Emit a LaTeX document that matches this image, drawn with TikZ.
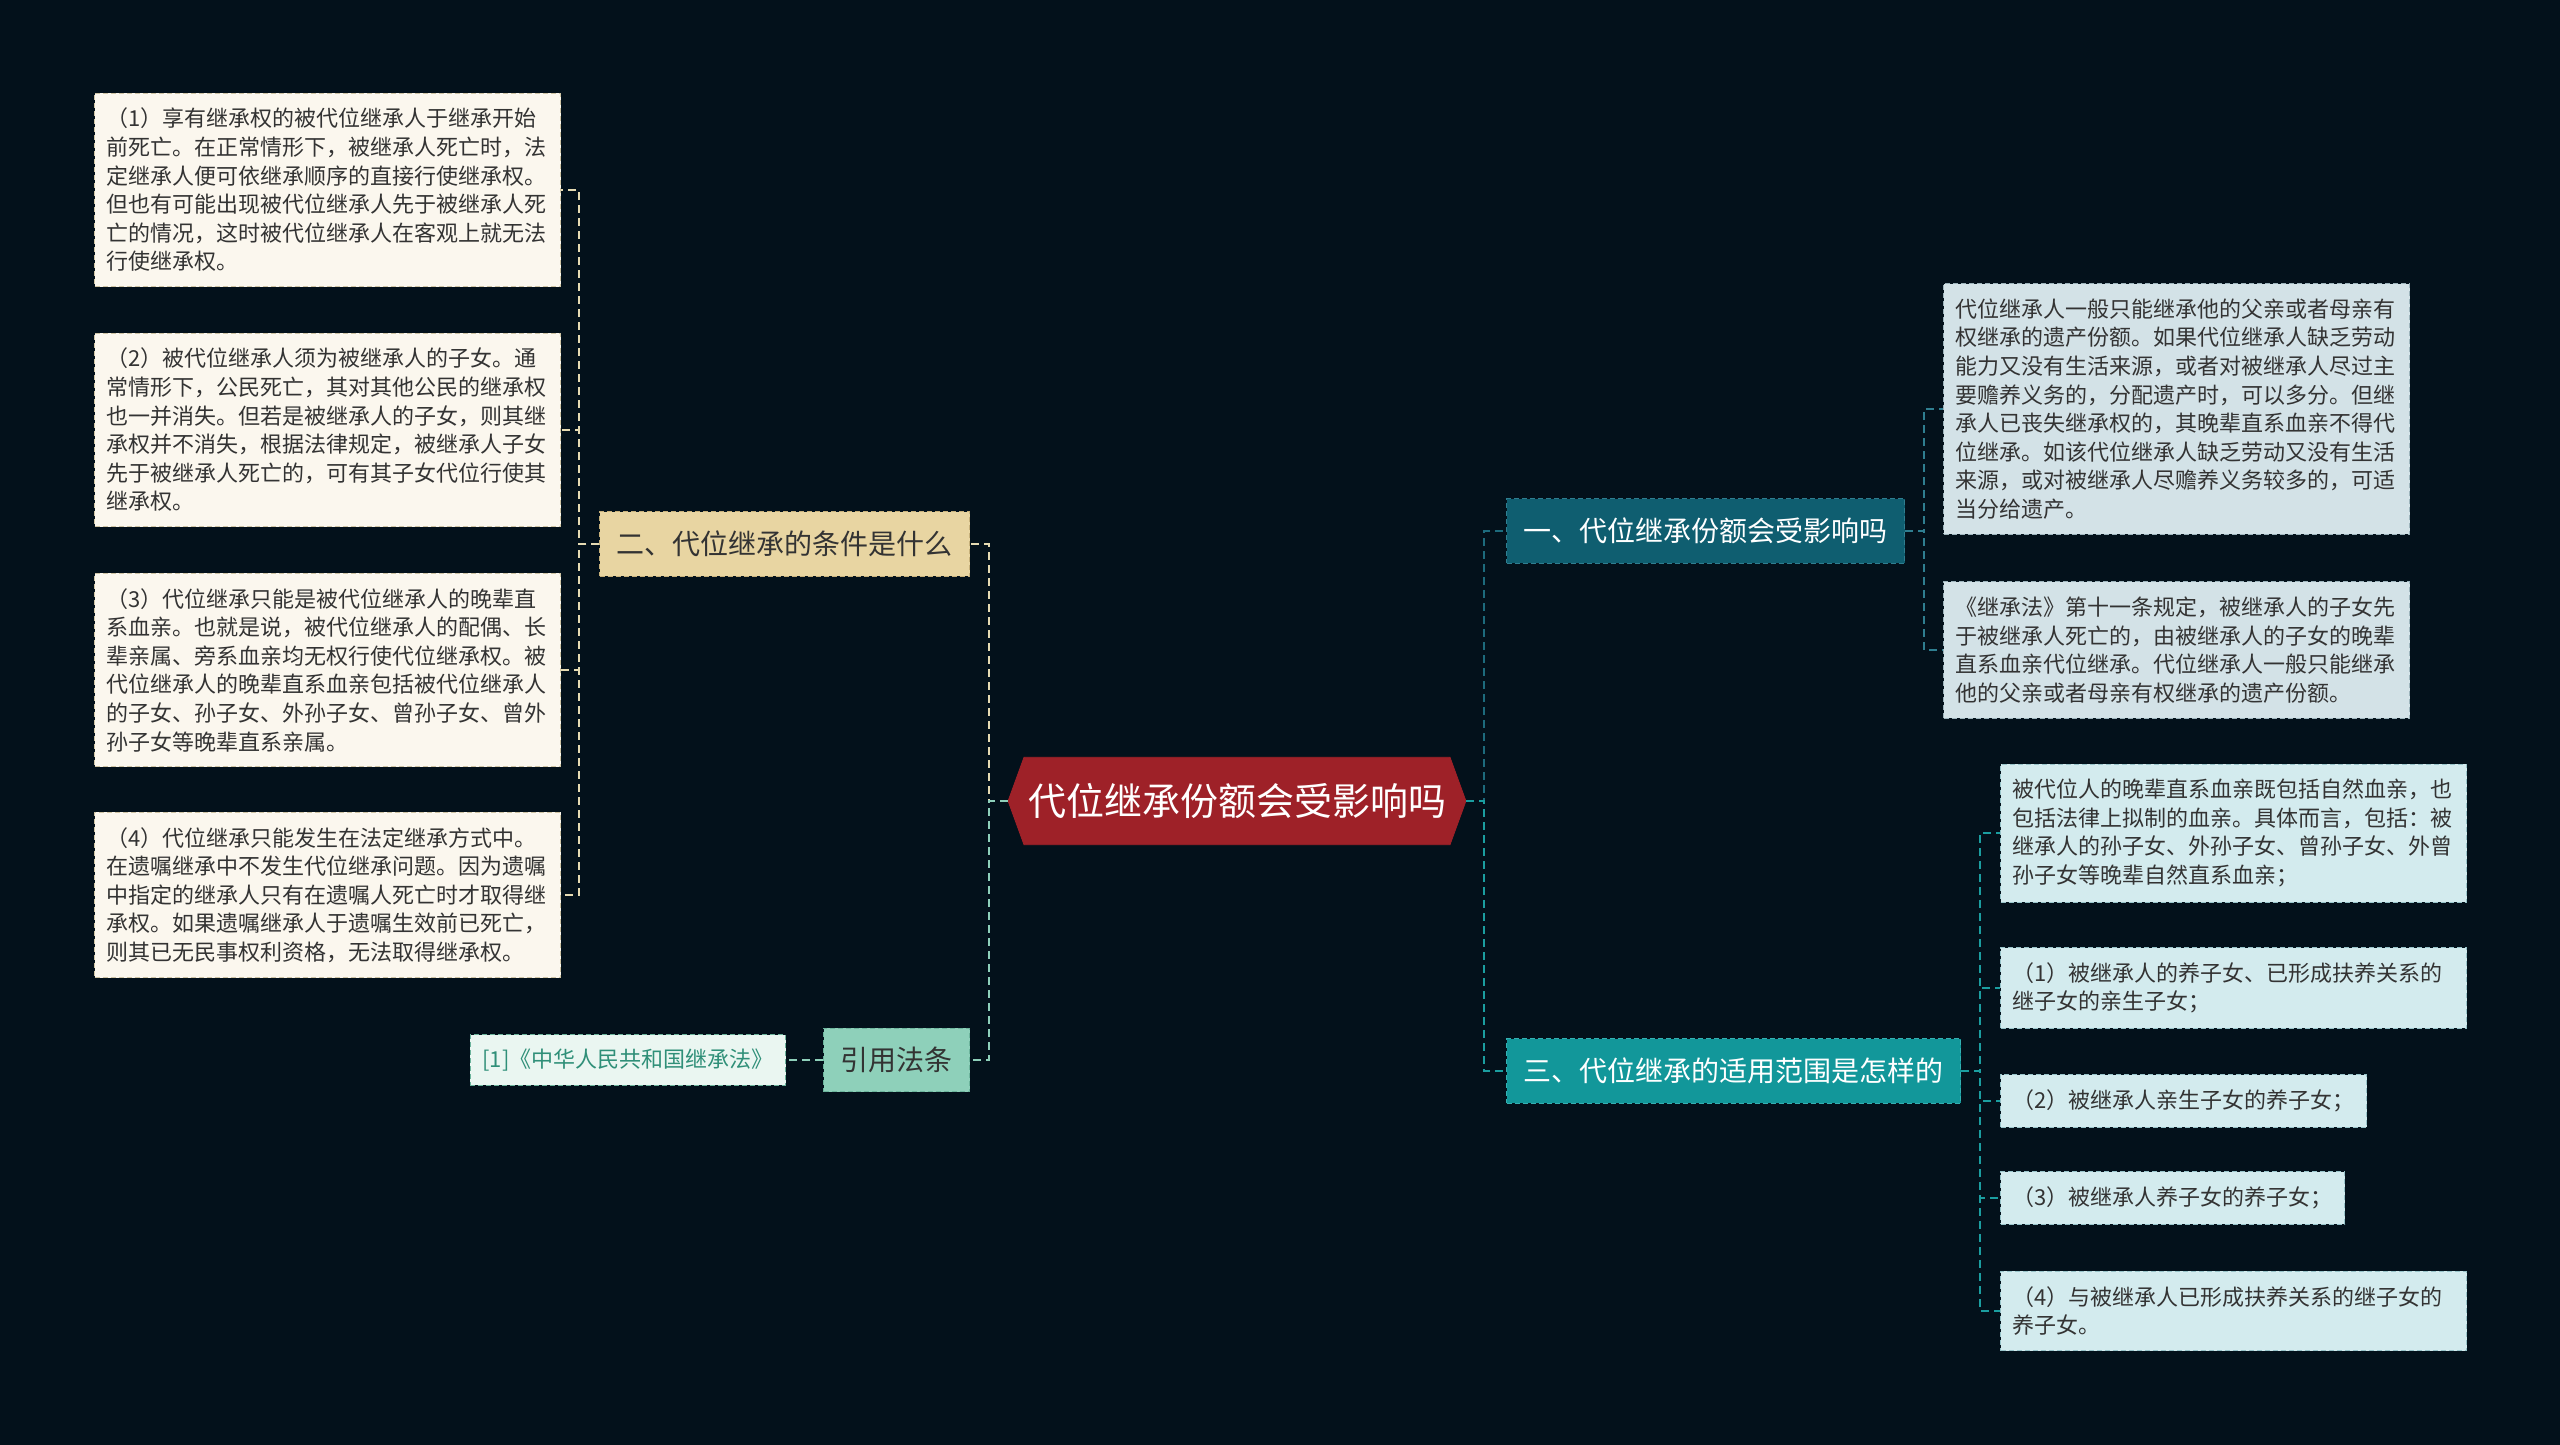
\documentclass[tikz,border=0pt]{standalone}
\usepackage{fontspec}
\setmainfont{Noto Sans CJK SC}
\usetikzlibrary{shapes.symbols}
\definecolor{mbg}{HTML}{03111B}
\definecolor{mtext}{HTML}{333333}
\definecolor{mcream}{HTML}{FBF7EE}
\definecolor{mcreamln}{HTML}{CFC4A4}
\definecolor{mtan}{HTML}{E8D5A2}
\definecolor{mtanln}{HTML}{C6B07A}
\definecolor{mcline}{HTML}{E6DBB3}
\definecolor{mmint}{HTML}{8ED0BA}
\definecolor{mmintln}{HTML}{6CB49C}
\definecolor{mmintpale}{HTML}{EAF6F1}
\definecolor{mminttext}{HTML}{2F8F78}
\definecolor{mred}{HTML}{9E2128}
\definecolor{mdeep}{HTML}{0F5E70}
\definecolor{mdeepln}{HTML}{2F7E90}
\definecolor{mteal}{HTML}{12979A}
\definecolor{mtealln}{HTML}{35B0B2}
\definecolor{mgrey}{HTML}{D3E2E7}
\definecolor{mgreyln}{HTML}{9DB4BC}
\definecolor{mice}{HTML}{D3EBEE}
\definecolor{miceln}{HTML}{98C4CA}
\definecolor{mdline}{HTML}{1D6B7D}
\definecolor{mtline}{HTML}{1B9EA0}

\begin{document}
\begin{tikzpicture}[
  x=0.5pt, y=-0.5pt,
  leaf/.style={draw, dash pattern=on 2.5pt off 1.5pt, line width=0.5pt, align=left, inner xsep=6pt, inner ysep=7.5pt, text=mtext, font=\fontsize{11}{14.3}\selectfont},
  wide/.style={leaf, text width=221pt},
  topic/.style={draw, dash pattern=on 2.5pt off 1.5pt, line width=0.5pt, inner xsep=8.5pt, inner ysep=9.5pt, font=\fontsize{14}{14}\selectfont},
  rootbox/.style={signal, signal to=west and east, signal pointer angle=140, fill=mred, draw=mred, text=white, inner xsep=2pt, inner ysep=13pt, font=\fontsize{19}{19}\selectfont},
  lnk/.style={dash pattern=on 4pt off 2.5pt, line width=1pt}
]
\path[use as bounding box, fill=mbg] (0,0) rectangle (2560,1445);

\node[rootbox] (root) at (1237,801) {代位继承份额会受影响吗};

\node[topic, fill=mtan, draw=mtanln, text=mtext, anchor=east] (cond) at (970,544) {二、代位继承的条件是什么};
\node[topic, fill=mmint, draw=mmintln, text=mtext, anchor=east] (ref) at (970,1060) {引用法条};
\node[leaf, fill=mmintpale, draw=mmintln, text=mminttext, inner ysep=7pt, anchor=east] (law) at (786,1060) {[1]《中华人民共和国继承法》};
\node[topic, fill=mdeep, draw=mdeepln, text=white, anchor=west] (share) at (1506,531) {一、代位继承份额会受影响吗};
\node[topic, fill=mteal, draw=mtealln, text=white, anchor=west] (scope) at (1506,1071) {三、代位继承的适用范围是怎样的};

\node[wide, fill=mcream, draw=mcreamln, anchor=west] (c1) at (94,190) {（1）享有继承权的被代位继承人于继承开始\\前死亡。在正常情形下，被继承人死亡时，法\\定继承人便可依继承顺序的直接行使继承权。\\但也有可能出现被代位继承人先于被继承人死\\亡的情况，这时被代位继承人在客观上就无法\\行使继承权。};
\node[wide, fill=mcream, draw=mcreamln, anchor=west] (c2) at (94,430) {（2）被代位继承人须为被继承人的子女。通\\常情形下，公民死亡，其对其他公民的继承权\\也一并消失。但若是被继承人的子女，则其继\\承权并不消失，根据法律规定，被继承人子女\\先于被继承人死亡的，可有其子女代位行使其\\继承权。};
\node[wide, fill=mcream, draw=mcreamln, anchor=west] (c3) at (94,670) {（3）代位继承只能是被代位继承人的晚辈直\\系血亲。也就是说，被代位继承人的配偶、长\\辈亲属、旁系血亲均无权行使代位继承权。被\\代位继承人的晚辈直系血亲包括被代位继承人\\的子女、孙子女、外孙子女、曾孙子女、曾外\\孙子女等晚辈直系亲属。};
\node[wide, fill=mcream, draw=mcreamln, anchor=west] (c4) at (94,895) {（4）代位继承只能发生在法定继承方式中。\\在遗嘱继承中不发生代位继承问题。因为遗嘱\\中指定的继承人只有在遗嘱人死亡时才取得继\\承权。如果遗嘱继承人于遗嘱生效前已死亡，\\则其已无民事权利资格，无法取得继承权。};

\node[wide, fill=mgrey, draw=mgreyln, anchor=west] (s1) at (1943,409) {代位继承人一般只能继承他的父亲或者母亲有\\权继承的遗产份额。如果代位继承人缺乏劳动\\能力又没有生活来源，或者对被继承人尽过主\\要赡养义务的，分配遗产时，可以多分。但继\\承人已丧失继承权的，其晚辈直系血亲不得代\\位继承。如该代位继承人缺乏劳动又没有生活\\来源，或对被继承人尽赡养义务较多的，可适\\当分给遗产。};
\node[wide, fill=mgrey, draw=mgreyln, anchor=west] (s2) at (1943,650) {《继承法》第十一条规定，被继承人的子女先\\于被继承人死亡的，由被继承人的子女的晚辈\\直系血亲代位继承。代位继承人一般只能继承\\他的父亲或者母亲有权继承的遗产份额。};

\node[wide, fill=mice, draw=miceln, anchor=west] (r1) at (2000,833) {被代位人的晚辈直系血亲既包括自然血亲，也\\包括法律上拟制的血亲。具体而言，包括：被\\继承人的孙子女、外孙子女、曾孙子女、外曾\\孙子女等晚辈自然直系血亲；};
\node[wide, fill=mice, draw=miceln, anchor=west] (r2) at (2000,988) {（1）被继承人的养子女、已形成扶养关系的\\继子女的亲生子女；};
\node[leaf, fill=mice, draw=miceln, anchor=west] (r3) at (2000,1101) {（2）被继承人亲生子女的养子女；};
\node[leaf, fill=mice, draw=miceln, anchor=west] (r4) at (2000,1198) {（3）被继承人养子女的养子女；};
\node[wide, fill=mice, draw=miceln, anchor=west] (r5) at (2000,1311) {（4）与被继承人已形成扶养关系的继子女的\\养子女。};

\coordinate (spA) at (579,0);
\coordinate (spB) at (989,0);
\coordinate (spC) at (1484,0);
\coordinate (spD) at (1924,0);
\coordinate (spE) at (1980,0);

\foreach \n in {c1,c2,c3,c4}
  \draw[lnk, mcline] (cond.west) -- (cond.west -| spA) |- (\n.east);
\draw[lnk, mcline] (root.west) -- (root.west -| spB) |- (cond.east);
\draw[lnk, mmint] (root.west) -- (root.west -| spB) |- (ref.east);
\draw[lnk, mmint] (ref.west) -- (law.east);
\draw[lnk, mdline] (root.east) -- (root.east -| spC) |- (share.west);
\draw[lnk, mtline] (root.east) -- (root.east -| spC) |- (scope.west);
\foreach \n in {s1,s2}
  \draw[lnk, mdeepln] (share.east) -- (share.east -| spD) |- (\n.west);
\foreach \n in {r1,r2,r3,r4,r5}
  \draw[lnk, mtline] (scope.east) -- (scope.east -| spE) |- (\n.west);
\end{tikzpicture}
\end{document}
